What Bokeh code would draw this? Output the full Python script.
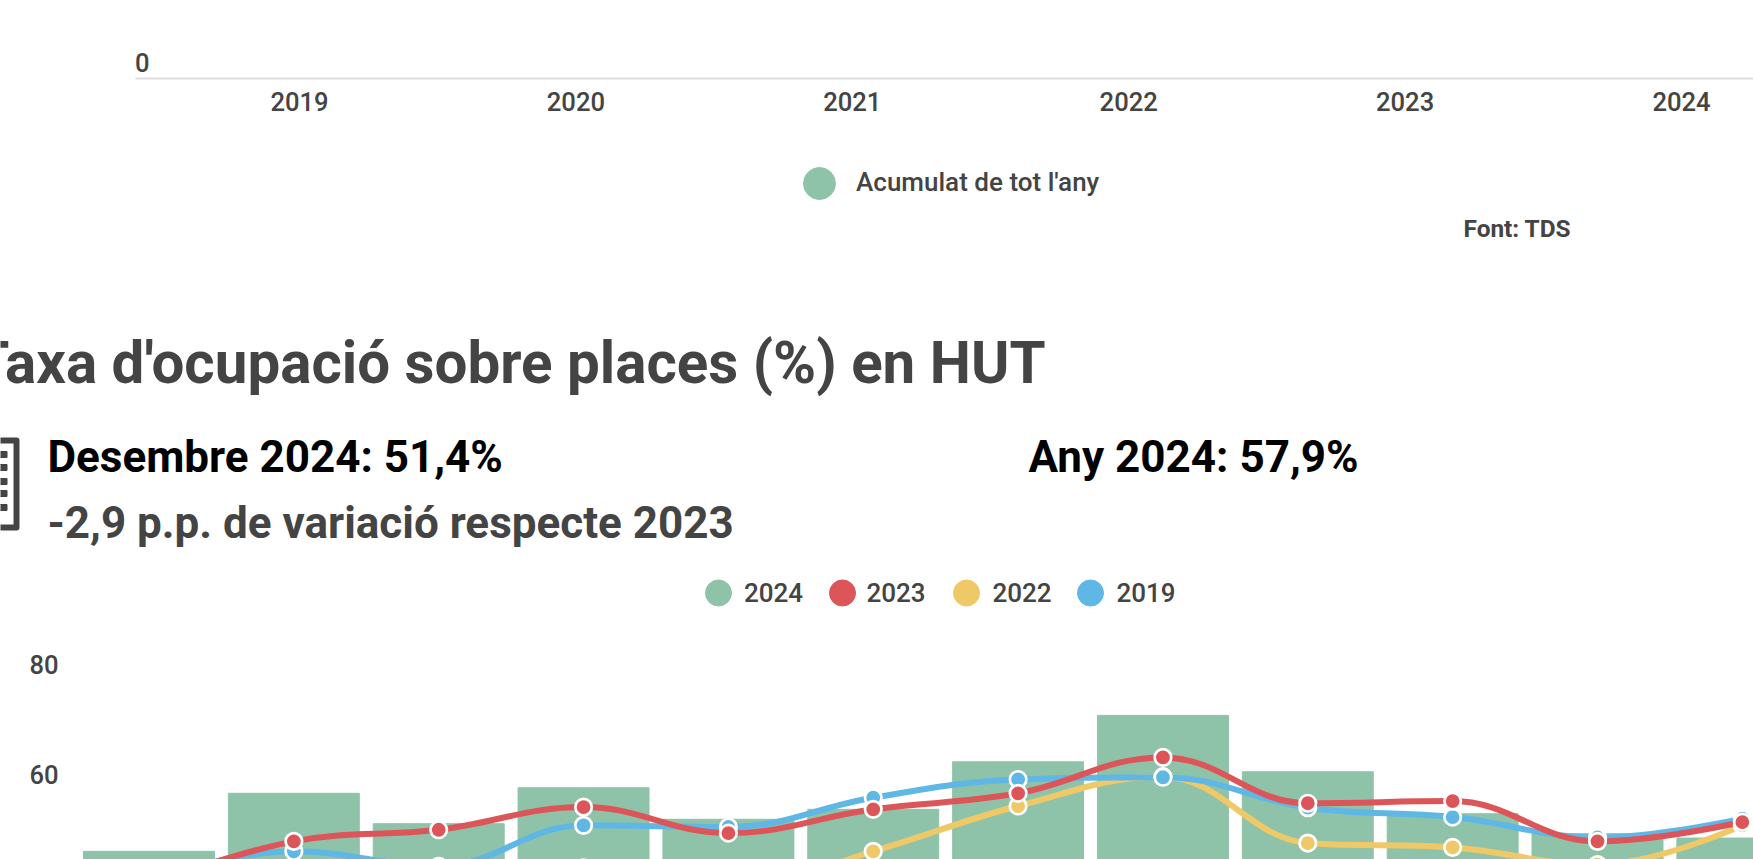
from bokeh.plotting import figure
from bokeh.layouts import column
from bokeh.models import Range1d, FixedTicker
from bokeh.core.properties import value
from bokeh.embed import file_html
from bokeh.resources import INLINE

years = ["2019", "2020", "2021", "2022", "2023", "2024"]
months = ["Gen", "Feb", "Mar", "Abr", "Mai", "Jun", "Jul", "Ago", "Set", "Oct", "Nov", "Des"]
v2024 = [49.0, 59.5, 54.0, 60.5, 54.8, 56.6, 65.2, 73.6, 63.4, 55.8, 52.2, 51.4]
v2023 = [43.0, 50.8, 52.9, 57.0, 52.3, 56.6, 59.5, 66.0, 57.7, 58.1, 50.8, 54.3]
v2022 = [20.0, 30.0, 38.0, 46.0, 42.0, 49.0, 57.2, 62.5, 50.5, 49.7, 46.6, 53.7]
v2019 = [44.0, 49.0, 46.3, 53.7, 53.4, 58.7, 62.0, 62.4, 56.9, 55.2, 51.5, 54.9]
GREEN, RED, YELLOW, BLUE = "#8fc3a9", "#dc5558", "#efc968", "#5fb7e6"
DARK = "#444444"
FONT = "Roboto"
MEDIUM = "Roboto Medium"
W = 1753
PX_PER_UNIT = 5.525      # monthly chart: pixels per percentage point
LABEL_LIFT = 16          # tick labels sit this far above their value
STEP = 144.85            # monthly chart: pixels per month


def strip(p):
    p.outline_line_color = None
    p.background_fill_color = None
    p.border_fill_color = None
    p.grid.visible = False


def spline(ys, smoothing=1.5, denom=2.5):
    """Bezier segments through the values, as a spline series draws them."""
    n = len(ys)
    left, right = [None] * n, [None] * n
    for i in range(1, n - 1):
        y0, y1, y2 = ys[i - 1], ys[i], ys[i + 1]
        lx, ly = (smoothing * i + i - 1) / denom, (smoothing * y1 + y0) / denom
        rx, ry = (smoothing * i + i + 1) / denom, (smoothing * y1 + y2) / denom
        c = (ry - ly) * (rx - i) / (rx - lx) + y1 - ry
        ly += c
        ry += c
        if ly > y0 and ly > y1:
            ly = max(y0, y1)
            ry = 2 * y1 - ly
        elif ly < y0 and ly < y1:
            ly = min(y0, y1)
            ry = 2 * y1 - ly
        if ry > y2 and ry > y1:
            ry = max(y2, y1)
            ly = 2 * y1 - ry
        elif ry < y2 and ry < y1:
            ry = min(y2, y1)
            ly = 2 * y1 - ry
        left[i] = (lx, ly)
        right[i] = (rx, ry)
    left[n - 1] = (n - 1, ys[n - 1])
    right[0] = (0, ys[0])
    return dict(
        x0=list(range(n - 1)), y0=ys[:-1], x1=list(range(1, n)), y1=ys[1:],
        cx0=[right[i][0] for i in range(n - 1)], cy0=[right[i][1] for i in range(n - 1)],
        cx1=[left[i + 1][0] for i in range(n - 1)], cy1=[left[i + 1][1] for i in range(n - 1)],
    )


def style_y(axis, standoff):
    axis.axis_line_color = None
    axis.major_tick_line_color = None
    axis.minor_tick_line_color = None
    axis.major_label_standoff = standoff
    axis.major_label_text_font = MEDIUM
    axis.major_label_text_font_size = "25.6px"
    axis.major_label_text_color = DARK


# --- axis of the chart above -------------------------------------------------
top = figure(width=W, height=122, output_backend="svg", toolbar_location=None,
             x_range=Range1d(-299 / 276.4, (W - 299) / 276.4), y_range=Range1d(0, 78),
             min_border=0, min_border_bottom=44)
strip(top)
top.xaxis.ticker = FixedTicker(ticks=list(range(len(years))))
top.xaxis.major_label_overrides = {i: y for i, y in enumerate(years)}
top.xaxis.bounds = (-164 / 276.4, (W - 299) / 276.4)
top.xaxis.axis_line_color = "#dddddd"
top.xaxis.axis_line_width = 2
top.xaxis.major_tick_line_color = None
top.xaxis.minor_tick_line_color = None
top.xaxis.major_label_standoff = 7
top.xaxis.major_label_text_font = MEDIUM
top.xaxis.major_label_text_font_size = "25.6px"
top.xaxis.major_label_text_color = DARK
top.yaxis.ticker = FixedTicker(ticks=[LABEL_LIFT])
top.yaxis.major_label_overrides = {LABEL_LIFT: "0"}
style_y(top.yaxis[0], -155)

# --- headings and legends ----------------------------------------------------
mid = figure(width=W, height=498, output_backend="svg", toolbar_location=None,
             x_range=Range1d(0, W), y_range=Range1d(620, 122),
             min_border=0, x_axis_location=None, y_axis_location=None)
strip(mid)


def txt(x, y, s, size, color=DARK, font=FONT, style="bold", align="left"):
    mid.text([x], [y - 0.35 * size], text=[s], text_font=value(font), text_font_size=f"{size}px",
             text_font_style=style, text_color=color, text_align=align,
             text_baseline="alphabetic")


mid.scatter([819], [183], size=32, color=GREEN)
txt(855.5, 191, "Acumulat de tot l'any", 26, font=MEDIUM, style="normal")
txt(1463, 237, "Font: TDS", 24.4)
txt(1045, 383, "Taxa d'ocupació sobre places (%) en HUT", 58.3, align="right")
txt(47, 472, "Desembre 2024: 51,4%", 44, color="#000000")
txt(1028, 472, "Any 2024: 57,9%", 44, color="#000000")
txt(47, 538, "-2,9 p.p. de variació respecte 2023", 44)
for cx, tx, c, s in [(718, 743.5, GREEN, "2024"), (842, 866, RED, "2023"),
                     (966, 992, YELLOW, "2022"), (1090, 1116, BLUE, "2019")]:
    mid.scatter([cx], [592.5], size=26, color=c)
    txt(tx, 601.5, s, 26, font=MEDIUM, style="normal")
mid.quad(left=[-10], right=[16], top=[440], bottom=[527], fill_color=None,
         line_color=DARK, line_width=6, line_join="round")
mid.rect([2] * 5, [454, 467, 481, 493, 507], width=9, height=6, color=DARK)

# --- monthly chart -----------------------------------------------------------
ticks = [60, 80]
lift = LABEL_LIFT / PX_PER_UNIT
bot = figure(width=W, height=239, output_backend="svg", toolbar_location=None,
             x_range=Range1d(-148.5 / STEP, (W - 148.5) / STEP), y_range=Range1d(47.52, 90.77),
             min_border=0, x_axis_location=None)
strip(bot)
bot.yaxis.ticker = FixedTicker(ticks=[t + lift for t in ticks])
bot.yaxis.major_label_overrides = {t + lift: str(t) for t in ticks}
style_y(bot.yaxis[0], -64)

xs = list(range(len(months)))
bot.vbar(x=xs, top=v2024, bottom=0, width=0.904, color=GREEN)
for ys, c in [(v2022, YELLOW), (v2019, BLUE), (v2023, RED)]:
    bot.bezier(**spline(ys), line_color=c, line_width=6)
for ys, c in [(v2022, YELLOW), (v2019, BLUE), (v2023, RED)]:
    bot.scatter(xs, ys, size=16.5, fill_color=c, line_color="#ffffff", line_width=2.7)

page = column(top, mid, bot, spacing=0)
open("out.html", "w").write(file_html(page, INLINE))
